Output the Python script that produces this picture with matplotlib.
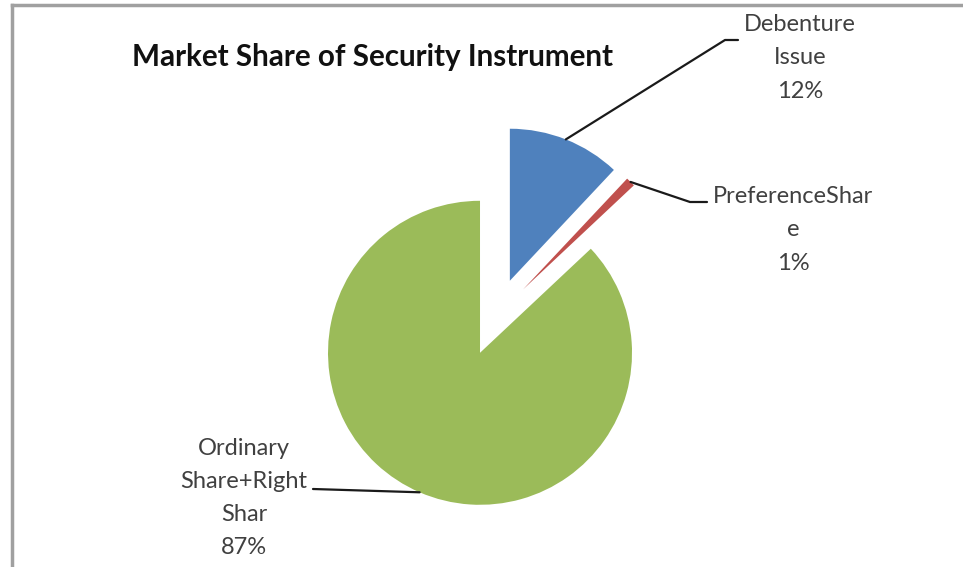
import numpy as np
import matplotlib
matplotlib.use('Agg')
import matplotlib.pyplot as plt

# Market share of security instruments
labels = ['Debenture\nIssue', 'PreferenceShar\ne', 'Ordinary\nShare+Right\nShar']
shares = [12, 1, 87]
colors = ['#4F81BD', '#C0504D', '#9BBB59']

W, H = 963, 567
fig = plt.figure(figsize=(W / 100, H / 100), dpi=100)
ax = fig.add_axes([0, 0, 1, 1])

plt.rcParams['font.family'] = ['Lato', 'DejaVu Sans']

center = (495.5, H - 317)
radius = 152
explode = [39] * len(shares)   # pie() offsets in data units

wedges, _ = ax.pie(shares, colors=colors, startangle=90, counterclock=False,
                   explode=explode, center=center, radius=radius,
                   wedgeprops=dict(linewidth=0), frame=True)
ax.set_xlim(0, W)
ax.set_ylim(0, H)
ax.set_aspect('equal')
ax.axis('off')

# leader line points: start on wedge rim at its mid angle, then elbows
elbows = [
    [(725, H - 40), (738, H - 40)],
    [(690, H - 202), (707, H - 202)],
    [(313, H - 489)],
]
text_pos = [(800, H - 58), (793, H - 230), (244, H - 498)]

for w, val, lab, elb, tp in zip(wedges, shares, labels, elbows, text_pos):
    mid = np.deg2rad((w.theta1 + w.theta2) / 2)
    cx, cy = w.center
    start = (cx + w.r * np.cos(mid), cy + w.r * np.sin(mid))
    pts = [start] + elb
    xs, ys = zip(*pts)
    ax.plot(xs, ys, color='#1a1a1a', lw=1.6, solid_capstyle='round')
    ax.text(tp[0], tp[1], f'{lab}\n{val}%', ha='center', va='center',
            fontsize=17, color='#404040', linespacing=1.72)

ax.text(372, H - 57, 'Market Share of Security Instrument', ha='center',
        va='center', fontsize=21.3, fontweight='bold', color='#111111')

# chart area border (top and left edges)
ax.plot([12, 12], [0, H - 5], color='#a0a0a0', lw=2.5)
ax.plot([12, W], [H - 5, H - 5], color='#a0a0a0', lw=2.5)

fig.savefig('out.png', dpi=100, facecolor='white')
